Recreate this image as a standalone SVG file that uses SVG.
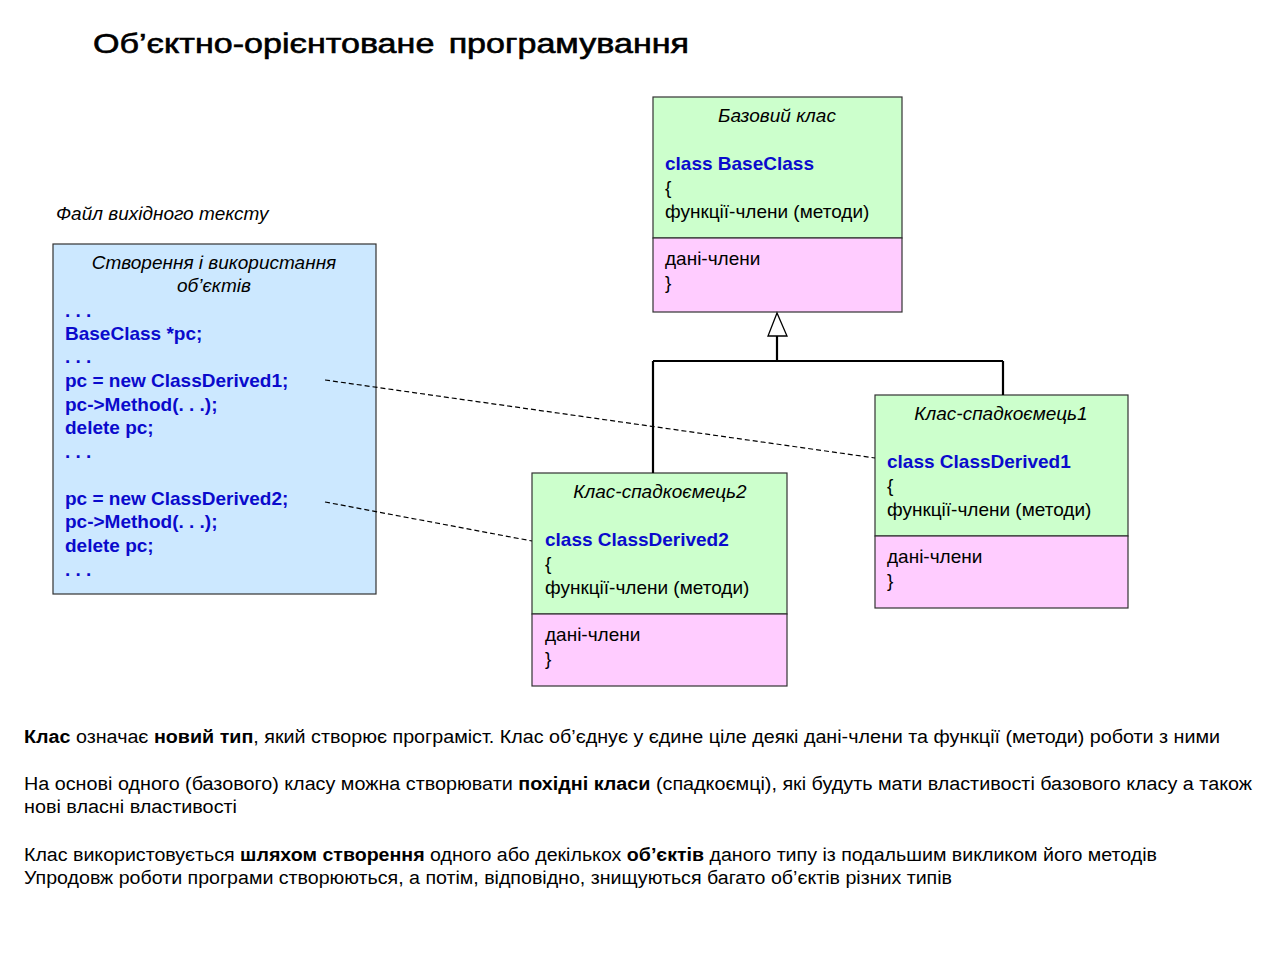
<svg xmlns="http://www.w3.org/2000/svg" width="1280" height="955" viewBox="0 0 1280 955">
<style>
text{font-family:"Liberation Sans",Arial,sans-serif;font-size:19px;fill:#000}
.it{font-style:italic}
.c{text-anchor:middle}
.code{fill:#0a0acc;font-weight:bold}
.green{fill:#ccffcc;stroke:#333;stroke-width:1.2}
.pink{fill:#ffccff;stroke:#333;stroke-width:1.2}
.blue{fill:#cce8ff;stroke:#333;stroke-width:1.2}
.b{font-weight:bold}
.desc{font-size:18px}
</style>
<rect width="1280" height="955" fill="#fff"/>
<text x="93" y="53" style="font-size:28px;stroke:#000;stroke-width:0.6;word-spacing:4px" textLength="596" lengthAdjust="spacingAndGlyphs">Об’єктно-орієнтоване програмування</text>

<g id="base">
<rect class="green" x="653" y="97" width="249" height="141"/>
<rect class="pink" x="653" y="238" width="249" height="74"/>
<text class="it c" x="777" y="122">Базовий клас</text>
<text class="code" x="665" y="170">class BaseClass</text>
<text x="665" y="194">{</text>
<text x="665" y="218">функції-члени (методи)</text>
<text x="665" y="265">дані-члени</text>
<text x="665" y="289">}</text>
</g>

<g id="derived1">
<rect class="green" x="875" y="395" width="253" height="141"/>
<rect class="pink" x="875" y="536" width="253" height="72"/>
<text class="it c" x="1001" y="420">Клас-спадкоємець1</text>
<text class="code" x="887" y="468">class ClassDerived1</text>
<text x="887" y="492">{</text>
<text x="887" y="516">функції-члени (методи)</text>
<text x="887" y="563">дані-члени</text>
<text x="887" y="587">}</text>
</g>

<g id="derived2">
<rect class="green" x="532" y="473" width="255" height="141"/>
<rect class="pink" x="532" y="614" width="255" height="72"/>
<text class="it c" x="660" y="498">Клас-спадкоємець2</text>
<text class="code" x="545" y="546">class ClassDerived2</text>
<text x="545" y="570">{</text>
<text x="545" y="594">функції-члени (методи)</text>
<text x="545" y="641">дані-члени</text>
<text x="545" y="665">}</text>
</g>

<g id="source">
<text class="it" x="56" y="220">Файл вихідного тексту</text>
<rect class="blue" x="53" y="244" width="323" height="350"/>
<text class="it c" x="214" y="269">Створення і використання</text>
<text class="it c" x="214" y="292">об’єктів</text>
<text class="code" x="65" y="317">. . .</text>
<text class="code" x="65" y="340">BaseClass *pc;</text>
<text class="code" x="65" y="363">. . .</text>
<text class="code" x="65" y="387">pc = new ClassDerived1;</text>
<text class="code" x="65" y="411">pc-&gt;Method(. . .);</text>
<text class="code" x="65" y="434">delete pc;</text>
<text class="code" x="65" y="458">. . .</text>
<text class="code" x="65" y="505">pc = new ClassDerived2;</text>
<text class="code" x="65" y="528">pc-&gt;Method(. . .);</text>
<text class="code" x="65" y="552">delete pc;</text>
<text class="code" x="65" y="576">. . .</text>
</g>

<g id="connectors" fill="none" stroke="#000">
<path d="M777 336 V361 M653 361 H1003 M653 361 V473 M1003 361 V395" stroke-width="2.2"/>
<polygon points="777,313 768,336 787,336" fill="#fff" stroke-width="1.3"/>
<line x1="325" y1="380" x2="875" y2="458" stroke-width="1.2" stroke-dasharray="5,3"/>
<line x1="325" y1="502" x2="532" y2="541" stroke-width="1.2" stroke-dasharray="5,3"/>
</g>

<g id="description">
<text class="desc" x="24" y="743" textLength="1196" lengthAdjust="spacingAndGlyphs"><tspan class="b">Клас</tspan> означає <tspan class="b">новий тип</tspan>, який створює програміст. Клас об’єднує  у єдине ціле деякі дані-члени та функції (методи) роботи з ними</text>
<text class="desc" x="24" y="790" textLength="1228" lengthAdjust="spacingAndGlyphs">На  основі одного (базового) класу можна створювати <tspan class="b">похідні класи</tspan> (спадкоємці), які будуть мати властивості базового класу а також</text>
<text class="desc" x="24" y="813" textLength="213" lengthAdjust="spacingAndGlyphs">нові власні властивості</text>
<text class="desc" x="24" y="861" textLength="1133" lengthAdjust="spacingAndGlyphs">Клас використовується <tspan class="b">шляхом створення</tspan> одного або декількох <tspan class="b">об’єктів</tspan> даного типу із подальшим викликом його методів</text>
<text class="desc" x="24" y="884" textLength="928" lengthAdjust="spacingAndGlyphs">Упродовж роботи програми створюються, а потім, відповідно, знищуються багато об’єктів різних типів</text>
</g>
</svg>
